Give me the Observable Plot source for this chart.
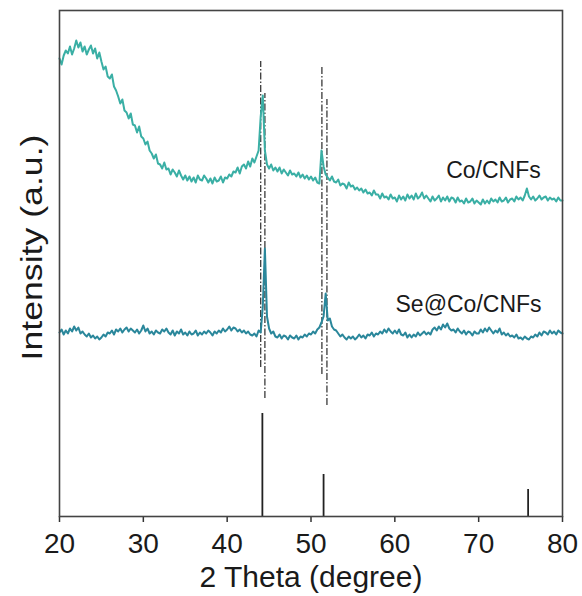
<!DOCTYPE html>
<html><head><meta charset="utf-8">
<script src="https://cdn.jsdelivr.net/npm/d3@7"></script>
<script src="https://cdn.jsdelivr.net/npm/@observablehq/plot@0.6"></script>
<style>body{margin:0;background:#fff}</style>
</head><body><div id="chart"></div>
<script>
// 2θ sampling grid: 20° to 80° every 0.25°
const xStart = 20, xStep = 0.25;

// Co/CNFs intensity (a.u.), 4 samples per degree, 20.00 ... 80.00
const coCNFs = [
 458,452,461,466, 463,470,462,468, 476,469,474,465, 470,462,467,471, 463,468,458,464,
 455,447,450,440, 438,442,430,426, 420,413,417,406, 404,398,403,392, 391,384,390,380,
 378,372,375,366, 363,358,362,353, 352,348,354,347, 348,342,347,344, 340,346,341,337,
 341,336,340,335, 339,334,341,337, 336,341,338,334, 338,333,339,335, 336,340,334,339,
 338,342,340,345, 344,349,343,350, 352,348,355,350, 358,354,360,366, 400,421,366,352,
 348,352,346,349, 345,349,343,347, 344,341,346,342, 343,340,344,339, 342,338,341,337,
 340,336,339,334, 333,366,350,342, 339,336,340,335, 334,337,331,333, 332,328,334,330,
 331,327,329,326, 328,324,327,323, 324,321,326,322, 322,318,323,319, 320,317,322,318,
 319,315,321,317, 320,316,322,318, 321,317,323,318, 320,324,318,321, 318,315,320,316,
 318,321,315,319, 316,320,315,319, 318,314,319,315, 316,313,318,314, 315,318,313,316,
 314,312,317,313, 316,313,318,315, 317,314,319,315, 316,319,314,317, 318,315,320,317,
 319,316,321,328, 320,317,320,316, 318,321,317,319, 320,316,319,317, 318,315,319,316,
 316
];

// Se@Co/CNFs intensity (a.u.), same grid
const seCoCNFs = [
 184,187,182,186, 183,188,185,190, 186,189,183,185, 182,180,183,179, 181,178,180,177,
 179,182,180,184, 183,186,182,187, 185,188,184,187, 189,185,188,186, 184,187,183,186,
 191,185,188,183, 185,182,186,184, 183,187,185,188, 184,182,186,181, 185,183,187,182,
 184,181,185,182, 183,186,181,184, 182,185,183,186, 184,181,185,183, 186,184,188,185,
 187,190,186,189, 188,185,187,184, 186,183,185,182, 181,183,180,186, 184,210,268,200,
 188,183,185,180, 179,182,178,181, 180,177,181,179, 178,181,177,180, 179,182,180,183,
 182,185,183,187, 189,194,200,223, 196,198,190,187, 186,183,180,182, 179,177,180,178,
 180,177,179,182, 179,181,178,182, 181,184,180,183, 182,185,183,187, 184,188,185,183,
 186,183,187,182, 181,184,179,182, 179,182,180,184, 181,183,185,182, 184,182,187,189,
 186,190,187,192, 189,193,188,186, 187,184,188,185, 183,186,182,185, 184,181,185,183,
 183,187,184,188, 185,189,186,183, 186,184,188,182, 184,181,183,180, 181,179,182,178,
 179,177,180,178, 177,180,179,182, 180,184,181,185, 184,182,186,183, 185,182,186,184,
 183
];

// Standard Co reflections (stick pattern)
const stdPos = [44.2, 51.5, 75.9];
const stdInt = [103, 42, 27];

// Dash-dot guide lines
const guidePos  = [44.0, 44.5, 51.3, 51.9];
const guideLow  = [149, 118, 142, 111];
const guideHigh = [455, 423, 449, 417];

// Series labels
const seriesNames = ["Co/CNFs", "Se@Co/CNFs"];
const labelX = [77.4, 77.5];
const labelY = [339, 205];

const xTicks = [20, 30, 40, 50, 60, 70, 80];

const co = coCNFs.map((v, i) => ({x: xStart + i * xStep, y: v}));
const se = seCoCNFs.map((v, i) => ({x: xStart + i * xStep, y: v}));
const sticks = stdPos.map((p, i) => ({x: p, y: stdInt[i]}));
const guides = guidePos.map((p, i) => ({x: p, y1: guideLow[i], y2: guideHigh[i]}));
const labels = seriesNames.map((t, i) => ({x: labelX[i], y: labelY[i], t}));

const yTitle = "Intensity (a.u.)";

const chart = Plot.plot({
  width: 582, height: 596,
  marginLeft: 59, marginRight: 20, marginTop: 10, marginBottom: 80,
  style: {fontFamily: "'Liberation Sans', Arial, sans-serif", color: "#1a1a1a", background: "#fff"},
  x: {domain: [20, 80]},
  y: {domain: [0, 506], axis: null},
  marks: [
    Plot.ruleX(sticks, {x: "x", y1: 0, y2: "y", stroke: "#222", strokeWidth: 1.8}),
    Plot.ruleX(guides, {x: "x", y1: "y1", y2: "y2", stroke: "#3a3a3a", strokeWidth: 1.3, strokeDasharray: "7,2,1.5,2"}),
    Plot.line(co, {x: "x", y: "y", stroke: "#3aafa5", strokeWidth: 2}),
    Plot.line(se, {x: "x", y: "y", stroke: "#2a879b", strokeWidth: 2}),
    Plot.axisX({ticks: xTicks, tickSize: 6, tickPadding: 11, fontSize: 28, stroke: "#333", strokeWidth: 1.5, label: null}),
    Plot.frame({stroke: "#444", strokeWidth: 1.6}),
    Plot.text(labels, {x: "x", y: "y", text: "t", textAnchor: "end", lineAnchor: "bottom", fontSize: 23, fill: "#1a1a1a"}),
    Plot.text(["2 Theta (degree)"], {text: d => d, frameAnchor: "bottom", dy: 70, lineAnchor: "bottom", fontSize: 30, fill: "#1a1a1a"}),
    Plot.text([yTitle], {text: d => d, frameAnchor: "left", rotate: -90, dx: -18, dy: 97, textAnchor: "start", lineAnchor: "bottom", fontSize: 29, fill: "#1a1a1a"})
  ]
});
document.getElementById("chart").appendChild(chart);
// stretch the y title along its length to match the reference's wide lettering
for (const t of chart.querySelectorAll("text")) {
  if (t.textContent === yTitle) {
    const tr = t.getAttribute("transform") || "";
    t.setAttribute("transform", tr + " scale(1.23,1)");
  }
}
</script>
</body></html>
